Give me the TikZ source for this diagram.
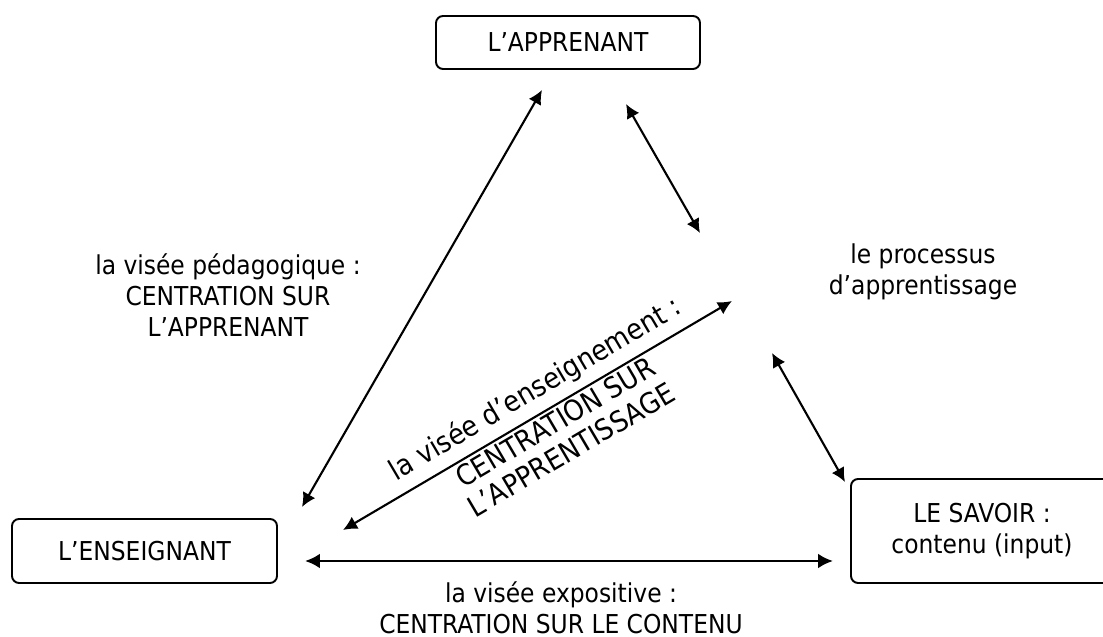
\documentclass[tikz,border=0pt]{standalone}
\usepackage{fontspec}
\setmainfont{DejaVu Sans Condensed}
\usetikzlibrary{arrows.meta}

\tikzset{
    pole/.style={draw,line width=1.1pt,rounded corners=4pt,inner sep=0pt,align=center},
    link/.style={line width=1.2pt,{Latex[length=8pt,width=8pt]}-{Latex[length=8pt,width=8pt]}},
    biglink/.style={line width=1.6pt,{Latex[length=8.5pt,width=8.5pt]}-{Latex[length=8.5pt,width=8.5pt]}},
    label/.style={align=center,inner sep=0pt},
    slanted/.style={inner sep=0pt,anchor=base,rotate=30.5,font=\fontsize{16.3}{18.8}\selectfont}
}

\begin{document}
\begin{tikzpicture}[font=\fontsize{14.8}{17.6}\selectfont]

    % Frame of the picture
    \clip (0,0) rectangle (22.06,12.74);

    % The three poles
    \node[pole,minimum width=5.28cm,minimum height=1.06cm] (apprenant) at (11.36,11.89) {L’APPRENANT};
    \node[pole,minimum width=5.30cm,minimum height=1.28cm] (enseignant) at (2.89,1.72) {L’ENSEIGNANT};
    \node[pole,minimum width=5.24cm,minimum height=2.08cm] (savoir) at (19.64,2.12) {LE SAVOIR :\\contenu (input)};

    % Ends of the arrows
    \coordinate (pedaA) at (6.04,2.60);
    \coordinate (pedaB) at (10.84,10.94);
    \coordinate (procA) at (12.52,10.66);
    \coordinate (procB) at (14.00,8.08);
    \coordinate (procC) at (15.44,5.68);
    \coordinate (procD) at (16.90,3.10);
    \coordinate (enseA) at (6.86,2.14);
    \coordinate (enseB) at (14.64,6.72);
    \coordinate (expoA) at (6.10,1.52);
    \coordinate (expoB) at (16.66,1.52);

    % Draw the arrows
    \draw[link] (pedaA) -- (pedaB);
    \draw[link] (procA) -- (procB);
    \draw[link] (procC) -- (procD);
    \draw[link] (enseA) -- (enseB);
    \draw[biglink] (expoA) -- (expoB);

    % Labels
    \node[label] (pedagogique) at (4.56,6.84) {la visée pédagogique :\\CENTRATION SUR\\L’APPRENANT};
    \node[label] (processus) at (18.46,7.30) {le processus\\d’apprentissage};
    \node[label] (expositive) at (11.22,0.58) {la visée expositive :\\CENTRATION SUR LE CONTENU};

    % Slanted label along the middle arrow
    \node[slanted] (enseignementA) at (10.80,4.80) {la visée d’enseignement :};
    \node[slanted] (enseignementB) at (11.21,4.12) {CENTRATION SUR};
    \node[slanted] (enseignementC) at (11.53,3.57) {L’APPRENTISSAGE};

\end{tikzpicture}
\end{document}
